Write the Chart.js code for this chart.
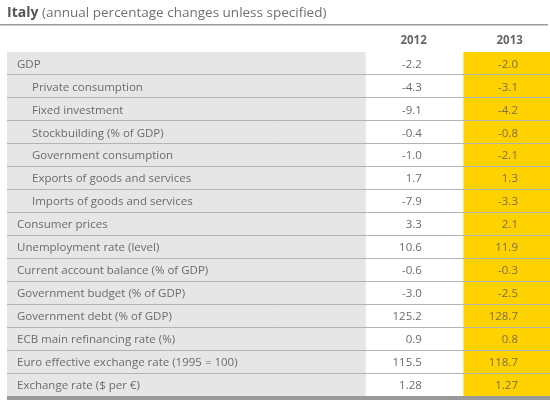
<!DOCTYPE html>
<html>
<head>
<meta charset="utf-8">
<script src="https://cdn.jsdelivr.net/npm/chart.js@4"></script>
<style>
  body { margin: 0; background: #fff; }
</style>
</head>
<body>
<canvas id="myChart" width="550" height="403"></canvas>
<script>
// table contents
const rows = [
  'GDP',
  'Private consumption',
  'Fixed investment',
  'Stockbuilding (% of GDP)',
  'Government consumption',
  'Exports of goods and services',
  'Imports of goods and services',
  'Consumer prices',
  'Unemployment rate (level)',
  'Current account balance (% of GDP)',
  'Government budget (% of GDP)',
  'Government debt (% of GDP)',
  'ECB main refinancing rate (%)',
  'Euro effective exchange rate (1995 = 100)',
  'Exchange rate ($ per €)'
];
const indented = [false, true, true, true, true, true, true, false, false, false, false, false, false, false, false];
const years = ['2012', '2013'];
const values2012 = [-2.2, -4.3, -9.1, -0.4, -1.0, 1.7, -7.9, 3.3, 10.6, -0.6, -3.0, 125.2, 0.9, 115.5, 1.28];
const values2013 = [-2.0, -3.1, -4.2, -0.8, -2.1, 1.3, -3.3, 2.1, 11.9, -0.3, -2.5, 128.7, 0.8, 118.7, 1.27];
const decimals = [1, 1, 1, 1, 1, 1, 1, 1, 1, 1, 1, 1, 1, 1, 2];

// column edges, in table width units (0..100)
const colEdges = [0, 66, 84, 100];

const ctx = document.getElementById('myChart').getContext('2d');

const labelFont = '11.5px "Open Sans", sans-serif';
const textColor = '#6b6b6b';

var tablePlugin = {
  id: 'tableText',
  afterDraw: function (chart) {
    const c = chart.ctx;
    const xs = chart.scales.x;
    const ys = chart.scales.y;
    const area = chart.chartArea;
    c.save();

    // title
    c.textBaseline = 'middle';
    c.textAlign = 'left';
    c.fillStyle = '#555';
    c.font = 'bold 14px "Open Sans", sans-serif';
    c.fillText('Italy', 7, 13);
    var w = c.measureText('Italy ').width;
    c.fillStyle = '#707070';
    c.font = '13.5px "Open Sans", sans-serif';
    c.fillText('(annual percentage changes unless specified)', 7 + w, 13);
    c.fillStyle = '#9a9a9a';
    c.fillRect(0, 24, 548, 1.5);

    // column headers
    c.font = 'bold 11.5px "Open Sans", sans-serif';
    c.fillStyle = '#666';
    c.textAlign = 'right';
    c.fillText(years[0], xs.getPixelForValue(77.3), 41);
    c.fillText(years[1], xs.getPixelForValue(95), 41);

    // rows
    rows.forEach(function (label, i) {
      var yy = ys.getPixelForValue(i) + 1;
      c.font = labelFont;
      c.fillStyle = textColor;
      c.textAlign = 'left';
      c.fillText(label, area.left + (indented[i] ? 25 : 10), yy);
      c.textAlign = 'right';
      c.fillText(values2012[i].toFixed(decimals[i]), xs.getPixelForValue(76.4), yy);
      c.fillStyle = '#7a6e55';
      c.fillText(values2013[i].toFixed(decimals[i]), xs.getPixelForValue(94.1), yy);
    });

    // bottom rule
    c.fillStyle = '#999';
    c.fillRect(area.left, area.bottom, area.right - area.left, 4);
    c.restore();
  }
};

function span(a, b) {
  return rows.map(function () { return [colEdges[a], colEdges[b]]; });
}

var myChart = new Chart(ctx, {
  type: 'bar',
  data: {
    labels: rows,
    datasets: [
      { label: 'labels', data: span(0, 1), backgroundColor: '#e6e6e6' },
      { label: years[0], data: span(1, 2), backgroundColor: '#ffffff' },
      { label: years[1], data: span(2, 3), backgroundColor: '#ffd200' }
    ]
  },
  options: {
    indexAxis: 'y',
    responsive: false,
    animation: false,
    devicePixelRatio: 1,
    layout: { padding: { left: 7, top: 52, right: 0, bottom: 7 } },
    datasets: { bar: { barPercentage: 1, categoryPercentage: 1, grouped: false, borderWidth: 0 } },
    plugins: { legend: { display: false }, tooltip: { enabled: false } },
    scales: {
      x: { display: false, min: 0, max: 100 },
      y: {
        offset: true,
        ticks: { display: false },
        border: { display: false },
        grid: {
          z: 1,
          offset: true,
          drawTicks: false,
          lineWidth: 1,
          color: function (ctx) { return ctx.index === 0 ? 'rgba(0,0,0,0)' : '#b3b3b3'; }
        }
      }
    }
  },
  plugins: [tablePlugin]
});
</script>
</body>
</html>
